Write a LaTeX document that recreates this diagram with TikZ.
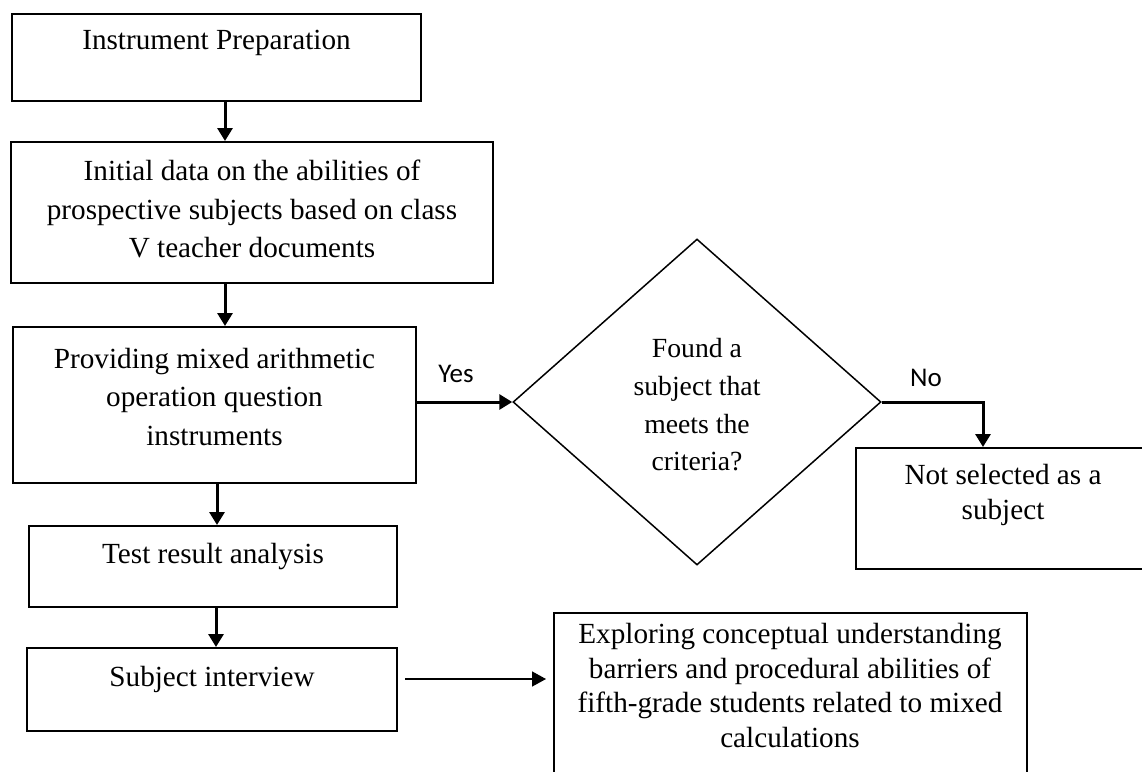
\documentclass[tikz,border=0pt]{standalone}
\usepackage{fontspec}
\setmainfont{Liberation Serif}
\newfontfamily\labfont{Carlito}
\usetikzlibrary{arrows.meta,shapes.geometric,calc}
\tikzset{
  box/.style={draw=black, line width=2pt, rectangle, inner sep=0pt},
  txt/.style={align=center, inner sep=0pt, font=\fontsize{29.2pt}{38.5pt}\selectfont},
  arr/.style={line width=3pt, -{Triangle[width=15pt,length=13pt]}},
  thinarr/.style={line width=1.5pt, -{Triangle[width=15pt,length=14pt]}},
  lab/.style={inner sep=0pt, font=\labfont\fontsize{27pt}{30pt}\selectfont}
}
\begin{document}
\begin{tikzpicture}[x=1pt,y=-1pt]
\useasboundingbox[fill=white] (0,0) rectangle (1142,771);
\clip (0,0) rectangle (1142,771);
% boxes
\node[box, minimum width=409pt, minimum height=87pt] (b1) at (216.5,57.5) {};
\node[box, minimum width=482pt, minimum height=141pt] (b2) at (252,212.5) {};
\node[box, minimum width=403pt, minimum height=156pt] (b3) at (214.5,405) {};
\node[box, minimum width=368pt, minimum height=81pt] (b4) at (213,566.5) {};
\node[box, minimum width=370pt, minimum height=83pt] (b5) at (212,689.5) {};
\node[box, minimum width=473pt, minimum height=190pt] (b6) at (790.5,708) {};
\node[box, minimum width=300pt, minimum height=121pt] (b7) at (1006,508.5) {};
\node[draw=black, line width=1.5pt, diamond, minimum width=368pt, minimum height=326pt, inner sep=0pt] (d) at (697,402) {};
% texts
\node[txt] (t1) at (216.5,43) {Instrument Preparation};
\node[txt] (t2) at (252,209) {Initial data on the abilities of\\prospective subjects based on class\\V teacher documents};
\node[txt] (t3) at (214.5,397) {Providing mixed arithmetic\\operation question\\instruments};
\node[txt] (t4) at (213,557) {Test result analysis};
\node[txt] (t5) at (212,679) {Subject interview};
\node[txt, font=\fontsize{29.2pt}{34.5pt}\selectfont] (t6) at (790,685.5) {Exploring conceptual understanding\\barriers and procedural abilities of\\fifth-grade students related to mixed\\calculations};
\node[txt, font=\fontsize{29.2pt}{35pt}\selectfont] (t7) at (1003,494.5) {Not selected as a\\subject};
\node[txt, font=\fontsize{27.7pt}{37.7pt}\selectfont] (td) at (697,405) {Found a\\subject that\\meets the\\criteria?};
\node[lab] (yes) at (456,374) {Yes};
\node[lab] (no) at (926,378) {No};
% connector columns
\coordinate (c1) at (225,0);
\coordinate (c2) at (217,0);
\coordinate (c3) at (216,0);
\coordinate (c4) at (983,0);
\coordinate (c5) at (0,679);
% connectors
\draw[arr] (b1.south -| c1) -- (b2.north -| c1);
\draw[arr] (b2.south -| c1) -- (b3.north -| c1);
\draw[arr] (b3.south -| c2) -- (b4.north -| c2);
\draw[arr] (b4.south -| c3) -- (b5.north -| c3);
\draw[arr] (b3.east |- d.west) -- (d.west);
\draw[arr] (d.east) -| (b7.north -| c4);
\draw[thinarr] ([xshift=7pt]b5.east |- c5) -- ([xshift=-7pt]b6.west |- c5);
\end{tikzpicture}
\end{document}
